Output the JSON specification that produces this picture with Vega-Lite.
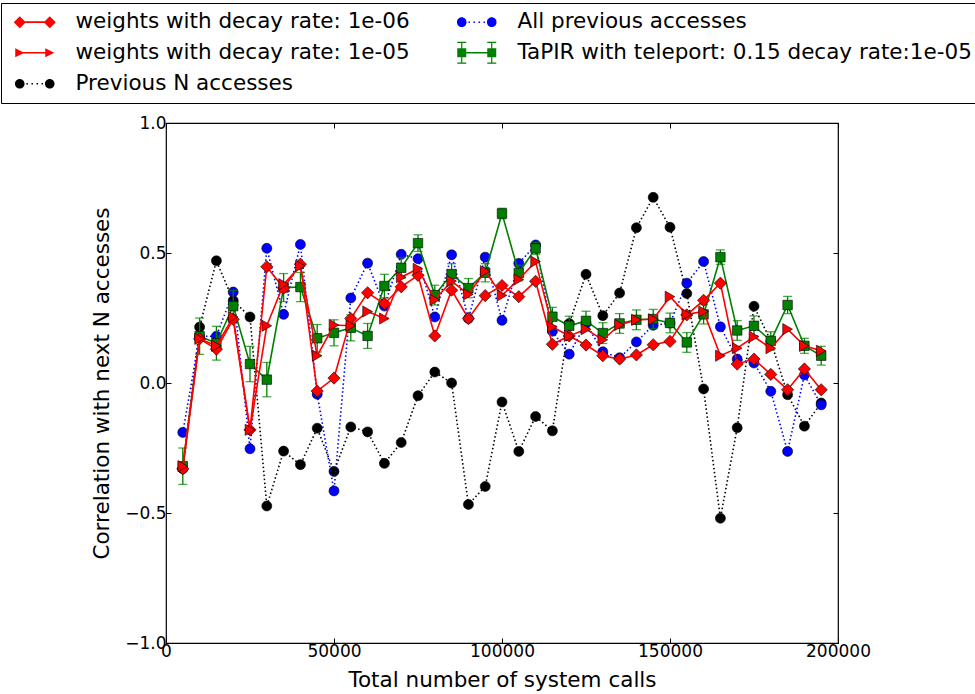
{
  "$schema": "https://vega.github.io/schema/vega-lite/v6.json",
  "width": 672,
  "height": 520,
  "autosize": {"type": "none"},
  "padding": {"left": 166, "top": 123, "right": 137, "bottom": 51},
  "background": "white",
  "data": {"values": [
    {"calls": 5000, "w6": -0.33, "w5": -0.32, "prevN": -0.33, "allPrev": -0.19, "tapir": -0.32, "tapirErr": 0.07},
    {"calls": 10000, "w6": 0.17, "w5": 0.17, "prevN": 0.215, "allPrev": 0.18, "tapir": 0.18, "tapirErr": 0.07},
    {"calls": 15000, "w6": 0.13, "w5": 0.143, "prevN": 0.47, "allPrev": 0.18, "tapir": 0.153, "tapirErr": 0.065},
    {"calls": 20000, "w6": 0.245, "w5": 0.254, "prevN": 0.317, "allPrev": 0.35, "tapir": 0.296, "tapirErr": 0.06},
    {"calls": 25000, "w6": -0.18, "w5": -0.18, "prevN": 0.254, "allPrev": -0.253, "tapir": 0.073, "tapirErr": 0.068},
    {"calls": 30000, "w6": 0.447, "w5": 0.22, "prevN": -0.473, "allPrev": 0.518, "tapir": 0.013, "tapirErr": 0.066},
    {"calls": 35000, "w6": 0.365, "w5": 0.38, "prevN": -0.262, "allPrev": 0.264, "tapir": 0.367, "tapirErr": 0.054},
    {"calls": 40000, "w6": 0.457, "w5": 0.45, "prevN": -0.314, "allPrev": 0.533, "tapir": 0.369, "tapirErr": 0.056},
    {"calls": 45000, "w6": -0.031, "w5": 0.105, "prevN": -0.174, "allPrev": -0.043, "tapir": 0.172, "tapirErr": 0.053},
    {"calls": 50000, "w6": 0.019, "w5": 0.223, "prevN": -0.34, "allPrev": -0.415, "tapir": 0.193, "tapirErr": 0.05},
    {"calls": 55000, "w6": 0.248, "w5": 0.22, "prevN": -0.169, "allPrev": 0.327, "tapir": 0.212, "tapirErr": 0.05},
    {"calls": 60000, "w6": 0.347, "w5": 0.275, "prevN": -0.188, "allPrev": 0.461, "tapir": 0.181, "tapirErr": 0.048},
    {"calls": 65000, "w6": 0.305, "w5": 0.248, "prevN": -0.309, "allPrev": 0.296, "tapir": 0.373, "tapirErr": 0.045},
    {"calls": 70000, "w6": 0.37, "w5": 0.407, "prevN": -0.229, "allPrev": 0.495, "tapir": 0.443, "tapirErr": 0.04},
    {"calls": 75000, "w6": 0.414, "w5": 0.439, "prevN": -0.049, "allPrev": 0.478, "tapir": 0.538, "tapirErr": 0.032},
    {"calls": 80000, "w6": 0.181, "w5": 0.32, "prevN": 0.042, "allPrev": 0.254, "tapir": 0.338, "tapirErr": 0.038},
    {"calls": 85000, "w6": 0.357, "w5": 0.392, "prevN": 0.0, "allPrev": 0.493, "tapir": 0.419, "tapirErr": 0.04},
    {"calls": 90000, "w6": 0.248, "w5": 0.341, "prevN": -0.467, "allPrev": 0.248, "tapir": 0.365, "tapirErr": 0.037},
    {"calls": 95000, "w6": 0.336, "w5": 0.43, "prevN": -0.398, "allPrev": 0.484, "tapir": 0.424, "tapirErr": 0.035},
    {"calls": 100000, "w6": 0.375, "w5": 0.337, "prevN": -0.073, "allPrev": 0.241, "tapir": 0.652, "tapirErr": 0.02},
    {"calls": 105000, "w6": 0.332, "w5": 0.398, "prevN": -0.263, "allPrev": 0.46, "tapir": 0.423, "tapirErr": 0.03},
    {"calls": 110000, "w6": 0.391, "w5": 0.467, "prevN": -0.129, "allPrev": 0.531, "tapir": 0.518, "tapirErr": 0.023},
    {"calls": 115000, "w6": 0.149, "w5": 0.216, "prevN": -0.184, "allPrev": 0.199, "tapir": 0.255, "tapirErr": 0.036},
    {"calls": 120000, "w6": 0.181, "w5": 0.181, "prevN": 0.229, "allPrev": 0.111, "tapir": 0.22, "tapirErr": 0.037},
    {"calls": 125000, "w6": 0.146, "w5": 0.207, "prevN": 0.418, "allPrev": 0.229, "tapir": 0.239, "tapirErr": 0.037},
    {"calls": 130000, "w6": 0.105, "w5": 0.166, "prevN": 0.259, "allPrev": 0.12, "tapir": 0.192, "tapirErr": 0.04},
    {"calls": 135000, "w6": 0.092, "w5": 0.223, "prevN": 0.346, "allPrev": 0.097, "tapir": 0.229, "tapirErr": 0.038},
    {"calls": 140000, "w6": 0.108, "w5": 0.243, "prevN": 0.597, "allPrev": 0.158, "tapir": 0.243, "tapirErr": 0.038},
    {"calls": 145000, "w6": 0.147, "w5": 0.245, "prevN": 0.714, "allPrev": 0.222, "tapir": 0.246, "tapirErr": 0.037},
    {"calls": 150000, "w6": 0.16, "w5": 0.332, "prevN": 0.599, "allPrev": 0.23, "tapir": 0.231, "tapirErr": 0.038},
    {"calls": 155000, "w6": 0.262, "w5": 0.264, "prevN": 0.344, "allPrev": 0.384, "tapir": 0.156, "tapirErr": 0.038},
    {"calls": 160000, "w6": 0.318, "w5": 0.275, "prevN": -0.023, "allPrev": 0.467, "tapir": 0.264, "tapirErr": 0.037},
    {"calls": 165000, "w6": 0.384, "w5": 0.105, "prevN": -0.52, "allPrev": 0.216, "tapir": 0.484, "tapirErr": 0.028},
    {"calls": 170000, "w6": 0.073, "w5": 0.134, "prevN": -0.172, "allPrev": 0.092, "tapir": 0.202, "tapirErr": 0.038},
    {"calls": 175000, "w6": 0.092, "w5": 0.178, "prevN": 0.295, "allPrev": 0.077, "tapir": 0.22, "tapirErr": 0.038},
    {"calls": 180000, "w6": 0.033, "w5": 0.134, "prevN": 0.162, "allPrev": -0.032, "tapir": 0.162, "tapirErr": 0.035},
    {"calls": 185000, "w6": -0.026, "w5": 0.207, "prevN": -0.045, "allPrev": -0.263, "tapir": 0.3, "tapirErr": 0.033},
    {"calls": 190000, "w6": 0.054, "w5": 0.143, "prevN": -0.166, "allPrev": 0.031, "tapir": 0.143, "tapirErr": 0.029},
    {"calls": 195000, "w6": -0.026, "w5": 0.124, "prevN": -0.077, "allPrev": -0.084, "tapir": 0.105, "tapirErr": 0.036}
  ]},
  "config": {
    "view": {"stroke": "black", "strokeWidth": 1.2},
    "font": "DejaVu Sans",
    "axis": {
      "labelFont": "DejaVu Sans", "titleFont": "DejaVu Sans",
      "labelFontSize": 17, "titleFontSize": 21.5, "titleFontWeight": "normal",
      "labelColor": "black", "titleColor": "black", "tickColor": "black",
      "domain": false, "grid": false, "tickSize": -5, "tickWidth": 1,
      "labelPadding": 5, "labelFlush": false, "labelOverlap": false, "labelBound": false
    }
  },
  "resolve": {"axis": {"x": "independent", "y": "independent"}},
  "layer": [
    {
      "mark": {"type": "line", "color": "black", "strokeWidth": 1.6, "strokeDash": [1.5, 2.5]},
      "encoding": {
        "x": {"field": "calls", "type": "quantitative", "scale": {"domain": [0, 200000], "nice": false},
              "axis": {"values": [0, 50000, 100000, 150000, 200000], "format": "d", "title": "Total number of system calls", "titlePadding": 10}},
        "y": {"field": "prevN", "type": "quantitative", "scale": {"domain": [-1, 1], "nice": false},
              "axis": {"values": [-1, -0.5, 0, 0.5, 1], "format": ".1f", "title": "Correlation with next N accesses", "titlePadding": 11}}
      }
    },
    {
      "mark": {"type": "point", "shape": "circle", "filled": true, "fill": "black", "stroke": "black", "strokeWidth": 0.6, "size": 100, "opacity": 1},
      "encoding": {
        "x": {"field": "calls", "type": "quantitative", "axis": null},
        "y": {"field": "prevN", "type": "quantitative", "axis": null}
      }
    },
    {
      "mark": {"type": "line", "color": "blue", "strokeWidth": 1.6, "strokeDash": [1.5, 2.5]},
      "encoding": {
        "x": {"field": "calls", "type": "quantitative", "axis": null},
        "y": {"field": "allPrev", "type": "quantitative", "axis": null}
      }
    },
    {
      "mark": {"type": "point", "shape": "circle", "filled": true, "fill": "blue", "stroke": "black", "strokeWidth": 0.6, "size": 100, "opacity": 1},
      "encoding": {
        "x": {"field": "calls", "type": "quantitative", "axis": null},
        "y": {"field": "allPrev", "type": "quantitative", "axis": null}
      }
    },
    {
      "mark": {"type": "errorbar", "color": "green", "thickness": 1.3, "ticks": {"size": 9, "thickness": 1.3, "color": "green"}},
      "encoding": {
        "x": {"field": "calls", "type": "quantitative", "axis": null},
        "y": {"field": "tapir", "type": "quantitative", "axis": null},
        "yError": {"field": "tapirErr"}
      }
    },
    {
      "mark": {"type": "line", "color": "green", "strokeWidth": 1.6},
      "encoding": {
        "x": {"field": "calls", "type": "quantitative", "axis": null},
        "y": {"field": "tapir", "type": "quantitative", "axis": null}
      }
    },
    {
      "mark": {"type": "point", "shape": "square", "filled": true, "fill": "green", "stroke": "black", "strokeWidth": 0.6, "size": 90, "opacity": 1},
      "encoding": {
        "x": {"field": "calls", "type": "quantitative", "axis": null},
        "y": {"field": "tapir", "type": "quantitative", "axis": null}
      }
    },
    {
      "mark": {"type": "line", "color": "red", "strokeWidth": 1.6},
      "encoding": {
        "x": {"field": "calls", "type": "quantitative", "axis": null},
        "y": {"field": "w6", "type": "quantitative", "axis": null}
      }
    },
    {
      "mark": {"type": "point", "shape": "diamond", "filled": true, "fill": "red", "stroke": "black", "strokeWidth": 0.6, "size": 150, "opacity": 1},
      "encoding": {
        "x": {"field": "calls", "type": "quantitative", "axis": null},
        "y": {"field": "w6", "type": "quantitative", "axis": null}
      }
    },
    {
      "mark": {"type": "line", "color": "red", "strokeWidth": 1.6},
      "encoding": {
        "x": {"field": "calls", "type": "quantitative", "axis": null},
        "y": {"field": "w5", "type": "quantitative", "axis": null}
      }
    },
    {
      "mark": {"type": "point", "shape": "triangle-right", "filled": true, "fill": "red", "stroke": "black", "strokeWidth": 0.6, "size": 125, "opacity": 1},
      "encoding": {
        "x": {"field": "calls", "type": "quantitative", "axis": null},
        "y": {"field": "w5", "type": "quantitative", "axis": null}
      }
    },
    {
      "transform": [{"filter": "false"}],
      "mark": {"type": "point", "filled": true, "opacity": 1},
      "encoding": {
        "x": {"field": "calls", "type": "quantitative",
              "axis": {"orient": "top", "labels": false, "title": null, "values": [0, 50000, 100000, 150000, 200000]}},
        "y": {"field": "tapir", "type": "quantitative",
              "axis": {"orient": "right", "labels": false, "title": null, "values": [-1, -0.5, 0, 0.5, 1]}},
        "color": {"field": "series", "type": "nominal",
          "scale": {
            "domain": ["weights with decay rate: 1e-06", "weights with decay rate: 1e-05", "Previous N accesses", "All previous accesses", "TaPIR with teleport: 0.15 decay rate:1e-05"],
            "range": ["red", "red", "black", "blue", "green"]
          },
          "legend": {
            "orient": "none", "legendX": -165, "legendY": -120,
            "columns": 2, "direction": "vertical", "title": null,
            "labelFont": "DejaVu Sans", "labelFontSize": 21.5, "labelColor": "black", "labelLimit": 700,
            "symbolSize": 400, "symbolStrokeWidth": 0, "symbolOffset": 15, "labelOffset": 30,
            "rowPadding": 8, "columnPadding": 41, "padding": 8,
            "strokeColor": "black", "fillColor": "white", "cornerRadius": 0
          }
        },
        "shape": {"field": "series", "type": "nominal",
          "scale": {
            "domain": ["weights with decay rate: 1e-06", "weights with decay rate: 1e-05", "Previous N accesses", "All previous accesses", "TaPIR with teleport: 0.15 decay rate:1e-05"],
            "range": [
              "M-1.5,-0.08H1.5V0.08H-1.5Z M-1.5,-0.6L-0.9,0L-1.5,0.6L-2.1,0Z M1.5,-0.6L2.1,0L1.5,0.6L0.9,0Z",
              "M-1.5,-0.08H1.5V0.08H-1.5Z M-1.95,-0.45L-1.05,0L-1.95,0.45Z M1.05,-0.45L1.95,0L1.05,0.45Z",
              "M-1.98,0A0.48,0.48 0 1,1 -1.02,0A0.48,0.48 0 1,1 -1.98,0Z M1.02,0A0.48,0.48 0 1,1 1.98,0A0.48,0.48 0 1,1 1.02,0Z M-0.83,-0.07h0.15v0.15h-0.15Z M-0.33,-0.07h0.15v0.15h-0.15Z M0.18,-0.07h0.15v0.15h-0.15Z M0.68,-0.07h0.15v0.15h-0.15Z",
              "M-1.98,0A0.48,0.48 0 1,1 -1.02,0A0.48,0.48 0 1,1 -1.98,0Z M1.02,0A0.48,0.48 0 1,1 1.98,0A0.48,0.48 0 1,1 1.02,0Z M-0.83,-0.07h0.15v0.15h-0.15Z M-0.33,-0.07h0.15v0.15h-0.15Z M0.18,-0.07h0.15v0.15h-0.15Z M0.68,-0.07h0.15v0.15h-0.15Z",
              "M-1.5,-0.08H1.5V0.08H-1.5Z M-1.95,-0.45H-1.05V0.45H-1.95Z M1.05,-0.45H1.95V0.45H1.05Z M-1.56,-1.05H-1.44V1.05H-1.56Z M1.44,-1.05H1.56V1.05H1.44Z M-1.95,-1.1H-1.05V-0.98H-1.95Z M-1.95,0.98H-1.05V1.1H-1.95Z M1.05,-1.1H1.95V-0.98H1.05Z M1.05,0.98H1.95V1.1H1.05Z"
            ]
          }
        }
      }
    }
  ]
}
